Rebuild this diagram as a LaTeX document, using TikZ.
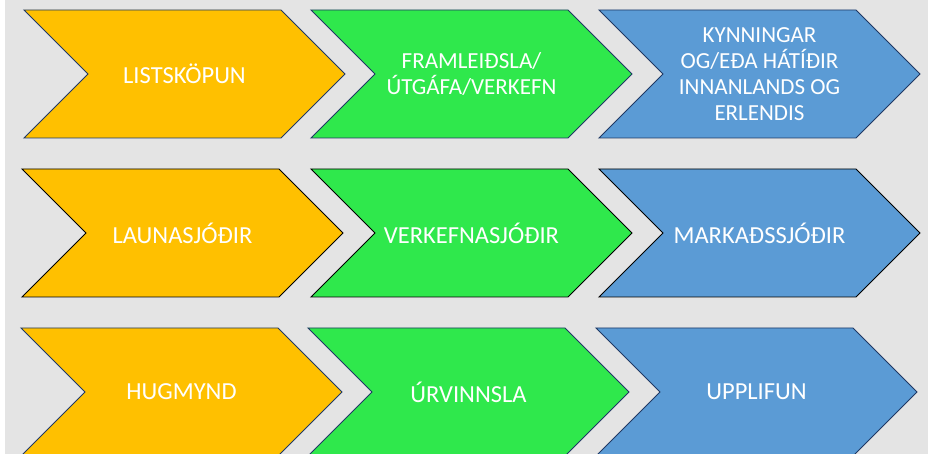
\documentclass[tikz,border=0pt]{standalone}
\usepackage{fontspec}
\setmainfont{Carlito}
\definecolor{bg}{HTML}{E4E4E4}
\definecolor{cyel}{HTML}{FFC000}
\definecolor{cgrn}{HTML}{2FE84C}
\definecolor{cblu}{HTML}{5B9BD5}
\definecolor{navy}{HTML}{1F3864}
\tikzset{
  chevline/.style={line width=0.9bp, line join=miter},
  lbl/.style={text=white, align=center, inner sep=0pt, font=\fontsize{24.5bp}{29bp}\selectfont},
  lblsmall/.style={lbl, font=\fontsize{23bp}{26bp}\selectfont},
}
\newcommand\mychev[7]{%
  \draw[chevline, fill=#4, draw=#5] (#2,#3) -- ++(257,0) -- ++(64,64) -- ++(-64,64) -- ++(-257,0) -- ++(64,-64) -- cycle;
  \node[#6] (#1) at (#2+160.5,#3+64) {#7};
}
\begin{document}
\begin{tikzpicture}[x=1bp,y=-1bp]
\useasboundingbox (0,0) rectangle (928,454);
\clip (0,0) rectangle (928,454);
\fill[bg] (5,0) rectangle (928,454);
% row 1
\mychev{listskopun}{24}{10}{cyel}{navy}{lbl}{LISTSKÖPUN}
\mychev{framleidsla}{311}{10}{cgrn}{navy}{lblsmall}{FRAMLEIÐSLA/\\ÚTGÁFA/VERKEFN}
\mychev{kynningar}{599}{10}{cblu}{navy}{lblsmall}{KYNNINGAR\\OG/EÐA HÁTÍÐIR\\INNANLANDS OG\\ERLENDIS}
% row 2
\mychev{launasjodir}{22}{169}{cyel}{black}{lbl}{LAUNASJÓÐIR}
\mychev{verkefnasjodir}{311}{169}{cgrn}{black}{lbl}{VERKEFNASJÓÐIR}
\mychev{markadssjodir}{599}{169}{cblu}{black}{lbl}{MARKAÐSSJÓÐIR}
% row 3
\mychev{hugmynd}{21}{328}{cyel}{navy}{lbl}{HUGMYND}
\mychev{urvinnsla}{308}{328}{cgrn}{navy}{lbl}{ÚRVINNSLA}
\mychev{upplifun}{596}{328}{cblu}{navy}{lbl}{UPPLIFUN}
\end{tikzpicture}
\end{document}
